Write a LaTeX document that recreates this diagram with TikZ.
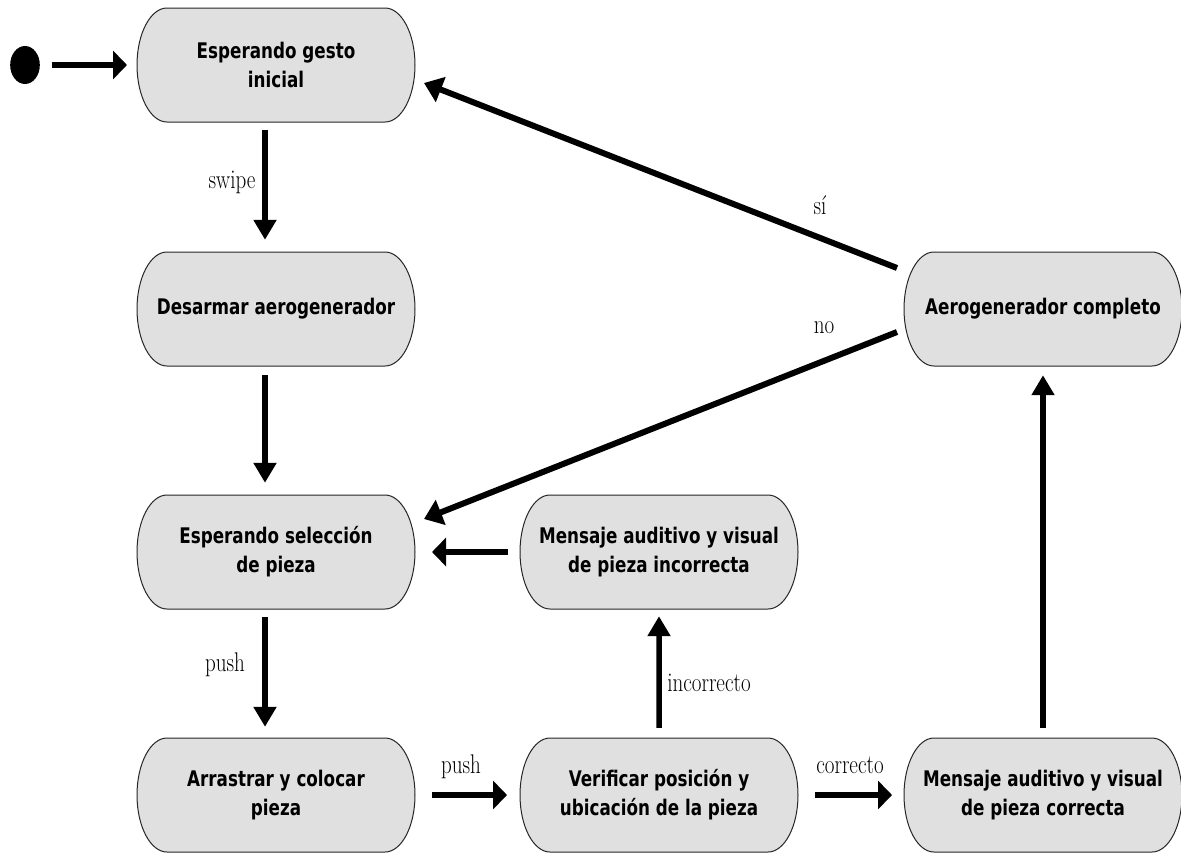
\documentclass[tikz,border=0pt]{standalone}
\usepackage{fontspec}
\usetikzlibrary{arrows.meta,calc}
\newfontfamily\statefont{DejaVu Sans}
\definecolor{statefill}{RGB}{224,224,224}
\begin{document}
\begin{tikzpicture}[x={(1.28205pt,0pt)}, y={(0pt,-1pt)}, xscale=0.78,
  state/.style={rectangle, minimum width=356pt, minimum height=114pt, inner sep=0pt, align=center,
    font=\statefont\bfseries\fontsize{21.5}{29}\selectfont, transform shape},
  capsule/.style={draw=black!85, line width=1pt, fill=statefill},
  lbl/.style={font=\fontsize{27}{30}\selectfont, inner sep=0pt, transform shape},
  harr/.style={line width=5.5pt, -{Triangle[length=14pt,width=28pt]}},
  varr/.style={line width=5.5pt, -{Triangle[length=20pt,width=22pt]}},
  darr/.style={line width=6pt, -{Triangle[length=18pt,width=26pt]}}]
\useasboundingbox (0,0) rectangle (1181,854);
% capsule outlines (drawn first, under the texts)
\foreach \p in {(276,65),(276,309),(276,552),(276,795),(659,552),(659,795),(1043,795),(1043,309)}{
  \draw[capsule] \p ++(-109,-57) -- ++(218,0)
    .. controls +(16.5,0) and +(0,-31.5) .. ++(30,57)
    .. controls +(0,31.5) and +(16.5,0) .. ++(-30,57)
    -- ++(-218,0)
    .. controls +(-16.5,0) and +(0,31.5) .. ++(-30,-57)
    .. controls +(0,-31.5) and +(-16.5,0) .. ++(30,-57) -- cycle;
}
\node[circle, fill=black, minimum size=38pt, inner sep=0pt, transform shape] (dot) at (25,65) {};
\node[state] (n1) at (276,65) {Esperando gesto\\inicial};
\node[state] (n2) at (276,309) {Desarmar aerogenerador};
\node[state] (n3) at (276,552) {Esperando selección\\de pieza};
\node[state] (n4) at (276,795) {Arrastrar y colocar\\pieza};
\node[state] (n5) at (659,552) {Mensaje auditivo y visual\\de pieza incorrecta};
\node[state] (n6) at (659,795) {Verificar posición y\\ubicación de la pieza};
\node[state] (n7) at (1043,795) {Mensaje auditivo y visual\\de pieza correcta};
\node[state] (n8) at (1043,309) {Aerogenerador completo};
\draw[harr, shorten <=12pt, shorten >=10pt] (dot) -- (n1);
\draw[varr, shorten <=8pt, shorten >=12pt] ($(n1.south)+(-11,0)$) -- ($(n2.north)+(-11,0)$);
\draw[varr, shorten <=9pt, shorten >=12pt] ($(n2.south)+(-11,0)$) -- ($(n3.north)+(-11,0)$);
\draw[varr, shorten <=8pt, shorten >=11pt] ($(n3.south)+(-11,0)$) -- ($(n4.north)+(-11,0)$);
\draw[harr, shorten <=17pt, shorten >=13pt] (n4) -- (n6);
\draw[harr, shorten <=17pt, shorten >=12pt] (n6) -- (n7);
\draw[harr, shorten <=12pt, shorten >=17pt] (n5) -- (n3);
\draw[varr, shorten <=10pt, shorten >=7pt] (n6) -- (n5);
\draw[varr, shorten <=10pt, shorten >=9pt] (n7) -- (n8);
\draw[darr] ($(n8.west)+(-7,-41)$) -- ($(n1.east)+(9,18)$);
\draw[darr] ($(n8.west)+(-7,23)$) -- ($(n3.east)+(9,-33)$);
\node[lbl] (lswipe) at (232,182) {swipe};
\node[lbl] (lpush1) at (225,665) {push};
\node[lbl] (lpush2) at (461,767) {push};
\node[lbl] (lcorr) at (850,765) {correcto};
\node[lbl] (linc) at (709,683) {incorrecto};
\node[lbl] (lsi) at (820,205) {sí};
\node[lbl] (lno) at (824,328) {no};
\end{tikzpicture}
\end{document}
